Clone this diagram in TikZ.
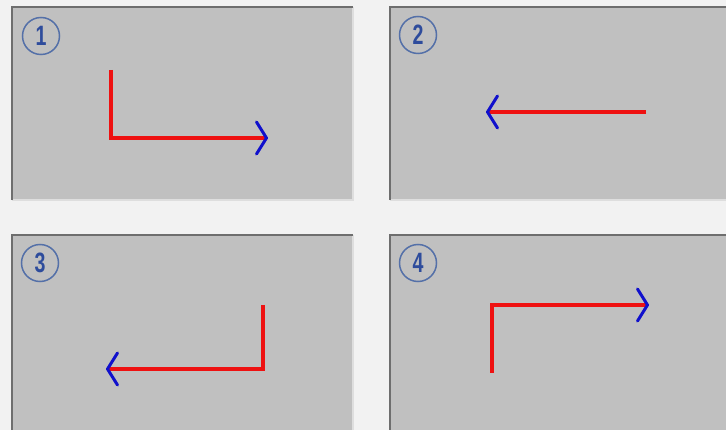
\documentclass[tikz,border=0pt]{standalone}
\usepackage{fontspec}
\usepackage{tikz}
\usetikzlibrary{arrows.meta}
\usepackage{xcolor}

\newfontfamily\numfont[FakeStretch=0.7]{Liberation Sans}

\definecolor{bggray}{HTML}{F2F2F2}
\definecolor{panelgray}{HTML}{C0C0C0}
\definecolor{edgedark}{HTML}{6E6E6E}
\definecolor{edgelight}{HTML}{DEDEDE}
\definecolor{numblue}{HTML}{5470A8}
\definecolor{digitblue}{HTML}{2E4C9C}
\definecolor{linered}{HTML}{EE1111}
\definecolor{tipblue}{HTML}{1010CC}

\begin{document}
\begin{tikzpicture}[
    x=1pt, y=-1pt,
    panel/.style={fill=panelgray},
    dark edge/.style={draw=edgedark, line width=2pt},
    light edge/.style={draw=edgelight, line width=1.5pt},
    num circle/.style={circle, draw=numblue, line width=1.5pt, inner sep=0pt, minimum size=37pt,
        text=digitblue, font=\numfont\bfseries\fontsize{28}{28}\selectfont},
    turn arrow/.style={draw=linered, line width=3.5pt, line join=miter, shorten >=-1pt,
        -{Straight Barb[length=10pt, width=32pt, line width=3pt, color=tipblue, round]}}
]
    \fill[bggray] (0,0) rectangle (726,430);
    \useasboundingbox (0,0) rectangle (726,430);

    % --- Panel 1 ---
    \begin{scope}[shift={(12,7)}]
        \fill[panel] (0,0) rectangle (341,193);
        \draw[light edge] (341,0) -- (341,193) -- (0,193);
        \draw[dark edge] (0,193) -- (0,0) -- (341,0);
        \node[num circle] (N1) at (29,29) {1};
        \coordinate (S1) at (99,63);
        \coordinate (C1) at (99,131);
        \coordinate (E1) at (255,131);
        \draw[turn arrow] (S1) -- (C1) -- (E1);
    \end{scope}

    % --- Panel 2 ---
    \begin{scope}[shift={(390,7)}]
        \fill[panel] (0,0) rectangle (336,193);
        \draw[light edge] (0,193) -- (336,193);
        \draw[dark edge] (0,193) -- (0,0) -- (336,0);
        \node[num circle] (N2) at (28,28) {2};
        \coordinate (S2) at (256,105);
        \coordinate (E2) at (97,105);
        \draw[turn arrow] (S2) -- (E2);
    \end{scope}

    % --- Panel 3 ---
    \begin{scope}[shift={(12,235)}]
        \fill[panel] (0,0) rectangle (341,195);
        \draw[light edge] (341,0) -- (341,195);
        \draw[dark edge] (0,195) -- (0,0) -- (341,0);
        \node[num circle] (N3) at (28,28) {3};
        \coordinate (S3) at (251,70);
        \coordinate (C3) at (251,134);
        \coordinate (E3) at (95,134);
        \draw[turn arrow] (S3) -- (C3) -- (E3);
    \end{scope}

    % --- Panel 4 ---
    \begin{scope}[shift={(390,235)}]
        \fill[panel] (0,0) rectangle (336,195);
        \draw[dark edge] (0,195) -- (0,0) -- (336,0);
        \node[num circle] (N4) at (28,28) {4};
        \coordinate (S4) at (102,138);
        \coordinate (C4) at (102,70);
        \coordinate (E4) at (258,70);
        \draw[turn arrow] (S4) -- (C4) -- (E4);
    \end{scope}
\end{tikzpicture}
\end{document}
